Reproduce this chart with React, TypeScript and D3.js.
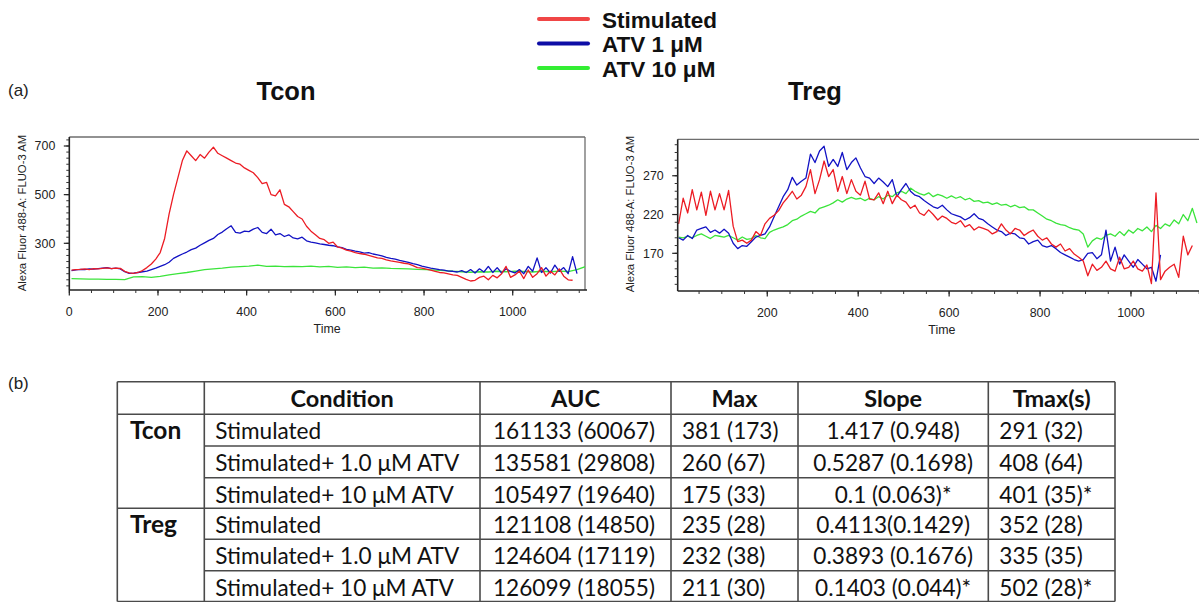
import React from "react";
import * as d3 from "d3";

// ---------------- DATA ----------------
const seriesNames = ["Stimulated", "ATV 1 μM", "ATV 10 μM"];
const lineColors = ["#ec1c24", "#1212c4", "#3be43b"];
const legendColors = ["#f04646", "#0d0da6", "#33ee33"];

// Tcon panel (time in s, regular sampling)
const tconStimStart = 5, tconStimStep = 10;
const tconStimulated = [
  190, 192, 193, 195, 192, 196, 195, 197, 199, 196,
  198, 197, 185, 178, 176, 180, 188, 200, 215, 235,
  262, 320, 420, 500, 570, 640, 680, 660, 640, 665,
  650, 675, 695, 670, 660, 650, 640, 630, 625, 610,
  600, 590, 570, 545, 550, 500, 495, 520, 460, 450,
  430, 410, 400, 370, 350, 335, 320, 315, 300, 305,
  285, 280, 272, 268, 262, 258, 255, 250, 245, 240,
  238, 232, 228, 225, 222, 218, 215, 208, 200, 198,
  194, 190, 185, 180, 178, 174, 170, 168, 160, 152,
  145, 148, 160, 165, 150, 168, 158, 175, 205, 160,
  170, 185, 155, 190, 160, 175, 200, 165, 185, 170,
  195, 165, 150, 148,
];
const tconAtv1Start = 5, tconAtv1Step = 10;
const tconAtv1 = [
  188, 191, 193, 192, 195, 194, 196, 198, 200, 196,
  198, 195, 183, 176, 177, 180, 183, 186, 192, 198,
  205, 212, 222, 238, 247, 256, 264, 274, 280, 292,
  302, 312, 320, 336, 346, 360, 372, 345, 342, 350,
  348, 358, 365, 345, 340, 358, 335, 340, 328, 335,
  322, 318, 325, 310, 305, 302, 298, 295, 292, 290,
  285, 282, 275, 272, 268, 265, 260, 262, 256, 252,
  248, 242, 238, 235, 230, 226, 222, 216, 212, 206,
  202, 198, 195, 192, 190, 186, 185, 182, 188, 180,
  192, 178, 195, 182, 205, 180, 200, 178, 195, 185,
  178, 192, 175, 205, 185, 240, 180, 200, 178, 210,
  185, 200, 175, 245, 175,
];
const tconAtv10Start = 5, tconAtv10Step = 20;
const tconAtv10 = [
  155, 154, 153, 153, 152, 152, 151, 162, 163, 160,
  164, 170, 175, 180, 186, 192, 195, 198, 202, 204,
  206, 210, 205, 206, 204, 205, 204, 206, 203, 205,
  201, 203, 200, 202, 198, 199, 197, 196, 195, 193,
  192, 190, 188, 185, 183, 181, 183, 182, 185, 183,
  186, 184, 182, 185, 183, 186, 184, 192, 205,
];

// Treg panel
const tregStimStart = 5, tregStimStep = 10;
const tregStimulated = [
  208, 241, 222, 252, 226, 249, 219, 250, 226, 247,
  226, 251, 205, 185, 187, 183, 187, 198, 193, 208,
  215, 219, 225, 235, 242, 250, 240, 245, 256, 278,
  247, 265, 289, 269, 278, 250, 269, 247, 265, 250,
  245, 263, 240, 239, 248, 234, 250, 234, 245, 239,
  236, 228, 232, 222, 219, 226, 220, 213, 218, 215,
  210, 208, 212, 204, 207, 200, 204, 202, 200, 195,
  198, 208, 200, 195, 202, 200, 193, 197, 200, 192,
  187, 190, 182, 178, 182, 173, 176, 169, 165, 160,
  141, 156, 148, 152, 160, 150, 147, 165, 150, 152,
  160, 150, 147, 155, 131, 248, 136, 147, 152, 156,
  139, 192, 168, 180,
];
const tregAtv1Start = 5, tregAtv1Step = 10;
const tregAtv1 = [
  190, 187, 193, 189, 200, 202, 204, 197, 200, 196,
  201, 196, 183, 176, 180, 179, 185, 191, 193, 195,
  204, 217, 230, 243, 252, 268, 258, 263, 267, 298,
  287, 302, 308, 282, 291, 282, 300, 278, 287, 293,
  280, 269, 267, 260, 267, 262, 256, 265, 243, 252,
  260, 250, 245, 243, 238, 234, 230, 228, 232, 226,
  221, 219, 217, 213, 216, 221, 215, 213, 208, 204,
  200, 198, 193, 196, 195, 190, 189, 182, 185, 187,
  180, 178, 180, 176, 171, 168, 165, 162, 160, 162,
  170, 171, 163, 168, 200, 160, 178, 156, 168, 160,
  152, 162, 156, 150, 152, 134, 168,
];
const tregAtv10Start = 5, tregAtv10Step = 10;
const tregAtv10 = [
  191, 190, 192, 190, 193, 195, 192, 189, 193, 192,
  191, 193, 190, 187, 191, 188, 189, 193, 190, 189,
  197, 200, 202, 204, 207, 212, 214, 218, 221, 224,
  222, 228, 230, 232, 235, 239, 236, 240, 242, 240,
  241, 238, 241, 239, 243, 240, 245, 243, 248, 250,
  247, 254, 250, 247, 245, 248, 243, 246, 244, 241,
  244, 241, 243, 239, 241, 237, 238, 235, 236, 233,
  235, 232, 233, 230, 232, 229, 230, 226, 226, 222,
  218, 214, 212, 209, 207, 206, 203, 201, 200, 195,
  178, 186, 190, 188, 193, 195, 192, 198, 193, 200,
  196, 202, 199, 204, 198, 206, 202, 208, 205, 213,
  208, 220, 212, 228, 209,
];

// Axis ticks
const tconXTicks = [0, 200, 400, 600, 800, 1000];
const tconYTicks = [300, 500, 700];
const tregXTicks = [200, 400, 600, 800, 1000];
const tregYTicks = [170, 220, 270];
const yAxisTitle = "Alexa Fluor 488-A: FLUO-3 AM";
const xAxisTitle = "Time";

// Table
const tableHeaders = ["", "Condition", "AUC", "Max", "Slope", "Tmax(s)"];
const cellTypes = ["Tcon", "Treg"];
const conditions = ["Stimulated", "Stimulated+ 1.0 μM ATV", "Stimulated+ 10 μM ATV"];
const aucValues = ["161133 (60067)", "135581 (29808)", "105497 (19640)", "121108 (14850)", "124604 (17119)", "126099 (18055)"];
const maxValues = ["381 (173)", "260 (67)", "175 (33)", "235 (28)", "232 (38)", "211 (30)"];
const slopeValues = ["1.417 (0.948)", "0.5287 (0.1698)", "0.1 (0.063)*", "0.4113(0.1429)", "0.3893 (0.1676)", "0.1403 (0.044)*"];
const tmaxValues = ["291 (32)", "408 (64)", "401 (35)*", "352 (28)", "335 (35)", "502 (28)*"];

// ---------------- RENDER ----------------
const CHART_FONT = "'Liberation Sans', Arial, sans-serif";
const TABLE_FONT = "Lato, 'Open Sans', sans-serif";

type Series = { start: number; step: number; values: number[]; color: string };

function toPoints(s: Series): [number, number][] {
  return s.values.map((v, i) => [s.start + i * s.step, v]);
}

function Panel(props: {
  id: string;
  left: number; right: number; top: number; bottom: number;
  xDomain: [number, number]; yDomain: [number, number];
  xTicks: number[]; yTicks: number[];
  xMinor: number; yMinor: number;
  series: Series[];
  title: string; titleX: number;
  yTitleX: number; yTitleY: number;
}) {
  const { left, right, top, bottom } = props;
  const x = d3.scaleLinear().domain(props.xDomain).range([left, right]);
  const y = d3.scaleLinear().domain(props.yDomain).range([bottom, top]);
  const line = d3.line<[number, number]>().x((d) => x(d[0])).y((d) => y(d[1]));
  const xMinorTicks = d3.range(Math.ceil(props.xDomain[0] / props.xMinor) * props.xMinor, props.xDomain[1] + 0.001, props.xMinor);
  const yMinorTicks = d3.range(Math.ceil(props.yDomain[0] / props.yMinor) * props.yMinor, props.yDomain[1] + 0.001, props.yMinor);
  const visRight = Math.min(right, 1199);
  return (
    <g fontFamily={CHART_FONT}>
      <defs>
        <clipPath id={props.id}>
          <rect x={left} y={top} width={right - left} height={bottom - top} />
        </clipPath>
      </defs>
      <text x={props.titleX} y={100} fontSize={25.5} fontWeight="bold" textAnchor="middle" fill="#111">{props.title}</text>
      <line x1={left} x2={right} y1={top} y2={top} stroke="#6e6e6e" strokeWidth={1.3} />
      <line x1={right} x2={right} y1={top} y2={bottom} stroke="#6e6e6e" strokeWidth={1.3} />
      <g clipPath={`url(#${props.id})`}>
        {props.series.map((s, i) => (
          <path key={i} d={line(toPoints(s)) || ""} fill="none" stroke={s.color} strokeWidth={1.3} strokeLinejoin="round" />
        ))}
      </g>
      <line x1={left} x2={visRight + 2} y1={bottom} y2={bottom} stroke="#222" strokeWidth={1.6} />
      <line x1={left} x2={left} y1={top} y2={bottom} stroke="#222" strokeWidth={1.6} />
      {xMinorTicks.map((t) => (
        <line key={"xm" + t} x1={x(t)} x2={x(t)} y1={bottom} y2={bottom + 3} stroke="#333" strokeWidth={1} />
      ))}
      {props.xTicks.map((t) => (
        <g key={"x" + t}>
          <line x1={x(t)} x2={x(t)} y1={bottom} y2={bottom + 5.5} stroke="#222" strokeWidth={1.2} />
          <text x={x(t)} y={bottom + 26} fontSize={12.4} textAnchor="middle" fill="#222">{t}</text>
        </g>
      ))}
      {yMinorTicks.map((t) => (
        <line key={"ym" + t} x1={left - 3} x2={left} y1={y(t)} y2={y(t)} stroke="#333" strokeWidth={1} />
      ))}
      {props.yTicks.map((t) => (
        <g key={"y" + t}>
          <line x1={left - 5.5} x2={left} y1={y(t)} y2={y(t)} stroke="#222" strokeWidth={1.2} />
          <text x={left - 14} y={y(t) + 4.4} fontSize={12.4} textAnchor="end" fill="#222">{t}</text>
        </g>
      ))}
      <text x={(left + right) / 2} y={bottom + 43} fontSize={12.4} textAnchor="middle" fill="#222">{xAxisTitle}</text>
      <text transform={`translate(${props.yTitleX},${props.yTitleY}) rotate(-90)`} fontSize={11.3} textAnchor="middle" dominantBaseline="central" fill="#222">{yAxisTitle}</text>
    </g>
  );
}

function Legend() {
  const ys = [19, 43.5, 68];
  return (
    <g fontFamily={CHART_FONT}>
      {seriesNames.map((n, i) => (
        <g key={n}>
          <line x1={539} x2={588} y1={ys[i]} y2={ys[i]} stroke={legendColors[i]} strokeWidth={4} strokeLinecap="round" />
          <text x={602} y={ys[i] + 8.5} fontSize={22.5} fontWeight="bold" fill="#111">{n}</text>
        </g>
      ))}
    </g>
  );
}

function Table() {
  const colX = [117.3, 204.3, 480, 671, 798, 988.3, 1115];
  const rowY = [381.7, 414.3, 446, 477.7, 508.3, 539.3, 570.7, 601.5];
  const stroke = "#4a4a4a";
  const cols = [aucValues, maxValues, slopeValues, tmaxValues];
  const colAlign = ["start", "start", "start", "middle", "start"];
  const fs = 22.6;
  const rowsData = d3.range(6).map((r) => ({
    group: r % 3 === 0 ? cellTypes[r / 3] : "",
    cells: [conditions[r % 3], ...cols.map((c) => c[r])],
  }));
  return (
    <g fontFamily={TABLE_FONT} fill="#111">
      {rowY.map((yy, i) => {
        const full = i === 0 || i === 1 || i === 4 || i === 7;
        return <line key={"h" + i} x1={full ? colX[0] : colX[1]} x2={colX[6]} y1={yy} y2={yy} stroke={stroke} strokeWidth={1.6} />;
      })}
      {colX.map((xx, i) => (
        <line key={"v" + i} x1={xx} x2={xx} y1={rowY[0]} y2={rowY[7]} stroke={stroke} strokeWidth={1.6} />
      ))}
      {tableHeaders.map((h, i) =>
        h ? (
          <text key={"th" + i} x={(colX[i] + colX[i + 1]) / 2} y={rowY[1] - 7.5} fontSize={23.5} fontWeight="bold" textAnchor="middle">{h}</text>
        ) : null
      )}
      {rowsData.map((row, r) => (
        <g key={"r" + r}>
          {row.group ? (
            <text x={130} y={rowY[r + 1] + 25} fontSize={24.5} fontWeight="bold">{row.group}</text>
          ) : null}
          {row.cells.map((c, ci) => {
            const a = colAlign[ci];
            const x0 = colX[ci + 1];
            const x1 = colX[ci + 2];
            const tx = a === "middle" ? (x0 + x1) / 2 : x0 + (ci === 1 ? 13 : 11);
            return (
              <text key={ci} x={tx} y={rowY[r + 1] + 25} fontSize={fs} textAnchor={a}>{c}</text>
            );
          })}
        </g>
      ))}
    </g>
  );
}

export default function App() {
  const tconSeries: Series[] = [
    { start: tconAtv10Start, step: tconAtv10Step, values: tconAtv10, color: lineColors[2] },
    { start: tconAtv1Start, step: tconAtv1Step, values: tconAtv1, color: lineColors[1] },
    { start: tconStimStart, step: tconStimStep, values: tconStimulated, color: lineColors[0] },
  ];
  const tregSeries: Series[] = [
    { start: tregAtv10Start, step: tregAtv10Step, values: tregAtv10, color: lineColors[2] },
    { start: tregAtv1Start, step: tregAtv1Step, values: tregAtv1, color: lineColors[1] },
    { start: tregStimStart, step: tregStimStep, values: tregStimulated, color: lineColors[0] },
  ];
  return (
    <div style={{ position: "absolute", left: 0, top: 0, width: 1199, height: 602, overflow: "hidden", background: "#fff" }}>
      <svg width={1199} height={602} style={{ display: "block" }}>
        <rect width={1199} height={602} fill="#fff" />
        <text x={8} y={96} fontSize={17} fontFamily={CHART_FONT} fill="#222">(a)</text>
        <text x={8} y={389} fontSize={17} fontFamily={CHART_FONT} fill="#222">(b)</text>
        <Legend />
        <Panel
          id="clipTcon" left={69.3} right={585} top={137} bottom={290}
          xDomain={[0, 1163]} yDomain={[108, 737]}
          xTicks={tconXTicks} yTicks={tconYTicks} xMinor={50} yMinor={25}
          series={tconSeries} title="Tcon" titleX={286} yTitleX={22} yTitleY={213}
        />
        <Panel
          id="clipTreg" left={677.7} right={1206} top={139.3} bottom={291}
          xDomain={[3, 1165]} yDomain={[121.4, 317]}
          xTicks={tregXTicks} yTicks={tregYTicks} xMinor={50} yMinor={10}
          series={tregSeries} title="Treg" titleX={815} yTitleX={630} yTitleY={214}
        />
        <Table />
      </svg>
    </div>
  );
}
